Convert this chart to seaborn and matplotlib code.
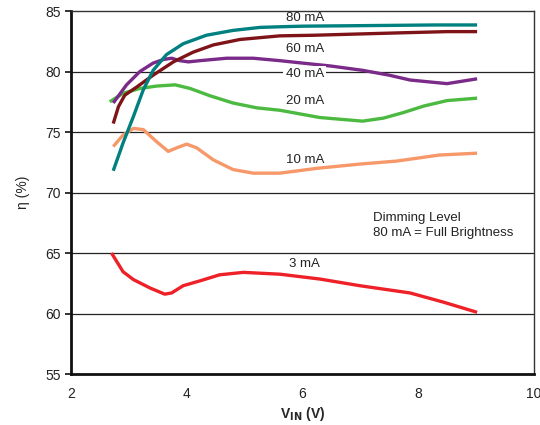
import matplotlib
matplotlib.use("Agg")
import matplotlib.pyplot as plt
import seaborn as sns
import pandas as pd

# ---- data ----
vin_80 = [2.73, 2.90, 3.08, 3.25, 3.42, 3.65, 3.94, 4.34, 4.80, 5.27, 5.61, 6.0, 7.17, 8.3, 9.02]
eff_80 = [71.8, 74.1, 76.3, 78.5, 80.1, 81.4, 82.3, 83.0, 83.4, 83.65, 83.7, 83.75, 83.8, 83.85, 83.85]

vin_60 = [2.73, 2.82, 2.93, 3.13, 3.42, 3.77, 4.11, 4.46, 4.92, 5.61, 6.2, 6.94, 7.7, 8.5, 9.02]
eff_60 = [75.7, 77.1, 78.05, 78.7, 79.7, 80.8, 81.6, 82.2, 82.65, 82.95, 83.0, 83.1, 83.2, 83.3, 83.3]

vin_40 = [2.73, 2.96, 3.19, 3.42, 3.60, 3.74, 3.88, 4.03, 4.23, 4.69, 5.15, 5.61, 6.0, 6.5, 7.04, 7.5, 7.86, 8.5, 9.02]
eff_40 = [77.4, 78.9, 80.0, 80.7, 81.0, 81.1, 80.9, 80.8, 80.9, 81.1, 81.1, 80.9, 80.7, 80.45, 80.1, 79.7, 79.3, 79.0, 79.4]

vin_20 = [2.67, 2.90, 3.19, 3.48, 3.80, 4.06, 4.40, 4.80, 5.21, 5.61, 6.3, 7.04, 7.4, 7.74, 8.1, 8.5, 9.02]
eff_20 = [77.5, 78.2, 78.6, 78.8, 78.9, 78.6, 78.0, 77.4, 77.0, 76.8, 76.2, 75.9, 76.15, 76.6, 77.15, 77.6, 77.8]

vin_10 = [2.73, 2.90, 3.08, 3.25, 3.48, 3.68, 3.83, 4.00, 4.17, 4.46, 4.80, 5.15, 5.61, 6.25, 6.99, 7.63, 8.37, 9.02]
eff_10 = [73.8, 74.75, 75.3, 75.2, 74.2, 73.4, 73.7, 74.0, 73.7, 72.7, 71.9, 71.6, 71.6, 72.0, 72.35, 72.6, 73.1, 73.25]

vin_3 = [2.70, 2.90, 3.08, 3.37, 3.62, 3.74, 3.94, 4.23, 4.57, 4.98, 5.61, 6.3, 6.99, 7.86, 8.43, 9.02]
eff_3 = [65.0, 63.45, 62.8, 62.1, 61.6, 61.7, 62.3, 62.7, 63.2, 63.4, 63.25, 62.85, 62.3, 61.7, 60.95, 60.1]

levels = ["80 mA", "60 mA", "40 mA", "20 mA", "10 mA", "3 mA"]
colors = ["#00807f", "#7f1418", "#7a2a88", "#4cba40", "#f7986a", "#ee2128"]
label_y = [84.4, 81.9, 79.8, 77.6, 72.7, 64.1]

series = [(vin_80, eff_80), (vin_60, eff_60), (vin_40, eff_40),
          (vin_20, eff_20), (vin_10, eff_10), (vin_3, eff_3)]

rows = []
for lvl, (xs, ys) in zip(levels, series):
    for x, y in zip(xs, ys):
        rows.append({"VIN": x, "eff": y, "level": lvl})
df = pd.DataFrame(rows)

sns.set_theme(style="white")
plt.rcParams['font.family'] = ['Liberation Sans', 'DejaVu Sans']

fig = plt.figure(figsize=(5.4, 4.25), dpi=100)
ax = fig.add_axes([0.1315, 0.12, 0.857, 0.854])

# grid lines
for gy in [60, 65, 70, 75, 80]:
    ax.axhline(gy, color="#222222", lw=0.9, zorder=0)

# draw lines in reverse so 80 mA sits on top
sns.lineplot(data=df, x="VIN", y="eff", hue="level", hue_order=levels[::-1],
             palette=dict(zip(levels, colors)), linewidth=2.4, sort=False,
             estimator=None, legend=False, ax=ax)
for ln in ax.get_lines():
    ln.set_solid_joinstyle("round")
    ln.set_solid_capstyle("butt")

ax.set_xlim(2, 10)
ax.set_ylim(55, 85)
ax.set_xticks([2, 4, 6, 8, 10])
ax.set_yticks([55, 60, 65, 70, 75, 80, 85])
ax.tick_params(axis="both", labelsize=10, colors="#222222")
ax.tick_params(axis="y", length=4, width=1.2, direction="out", left=True, color="#111111")
ax.tick_params(axis="x", length=0, pad=9)

for side in ["left", "bottom"]:
    ax.spines[side].set_color("#111111")
    ax.spines[side].set_linewidth(2.0)
for side in ["top", "right"]:
    ax.spines[side].set_visible(True)
    ax.spines[side].set_color("#333333")
    ax.spines[side].set_linewidth(1.0)

for lvl, ly in zip(levels, label_y):
    bbox = dict(facecolor="white", edgecolor="none", pad=1.5) if lvl == "40 mA" else None
    ax.text(6.04, ly, lvl, ha="center", va="center", fontsize=9.5, color="#222222",
            bbox=bbox, zorder=5)

ax.text(7.22, 67.9, "Dimming Level", ha="left", va="center", fontsize=9.5, color="#222222")
ax.text(7.22, 66.65, "80 mA = Full Brightness", ha="left", va="center", fontsize=9.5, color="#222222")

ax.set_xlabel(r"V$_{\mathbf{IN}}$ (V)", fontsize=10, fontweight="bold", labelpad=3)
ax.set_ylabel("η (%)", fontsize=10, labelpad=11)

fig.savefig("out.png", dpi=100)
